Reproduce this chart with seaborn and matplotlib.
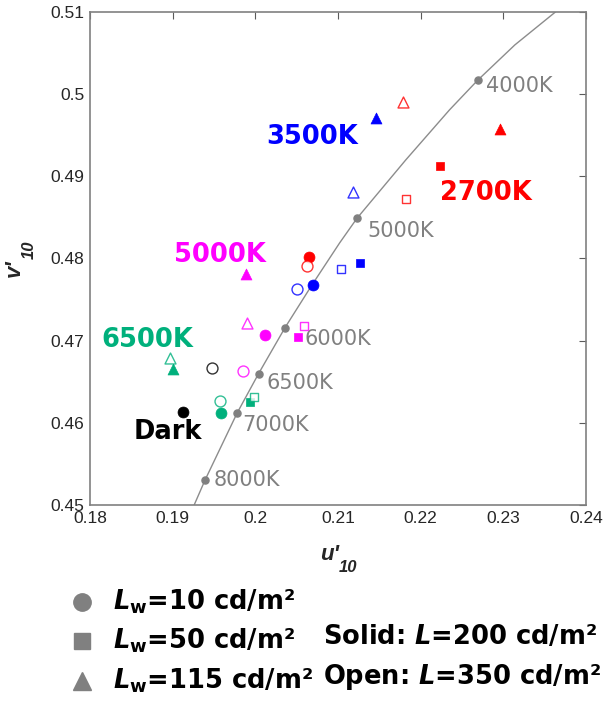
import numpy as np
import pandas as pd
import matplotlib
matplotlib.use("Agg")
import matplotlib.pyplot as plt
from matplotlib.lines import Line2D
import seaborn as sns

# Planckian locus (u'10, v'10)
locus_u = [0.1926, 0.1939, 0.1978, 0.2004, 0.2036, 0.2068, 0.2102, 0.2123,
           0.2182, 0.2235, 0.2269, 0.2314, 0.2363]
locus_v = [0.4500, 0.4530, 0.4612, 0.4660, 0.4716, 0.4767, 0.4819, 0.4849,
           0.4920, 0.4981, 0.5017, 0.5060, 0.5100]

# CCT marks on the locus
cct_names = ["8000K", "7000K", "6500K", "6000K", "5000K", "4000K"]
cct_u = [0.1939, 0.1978, 0.2004, 0.2036, 0.2123, 0.2269]
cct_v = [0.4530, 0.4612, 0.4660, 0.4716, 0.4849, 0.5017]
cct_label_u = [0.1949, 0.1984, 0.2014, 0.2060, 0.2135, 0.2279]
cct_label_v = [0.4530, 0.4597, 0.4648, 0.4702, 0.4833, 0.5010]

# measured white points: condition, white luminance (Lw), adapting luminance L
cond = ["2700K"] * 6 + ["3500K"] * 6 + ["5000K"] * 6 + ["6500K"] * 6 + ["Dark"] * 2
lw = [10, 10, 50, 50, 115, 115] * 4 + [10, 10]
lum = [200, 350] * 13
u10 = [0.2065, 0.2063, 0.2223, 0.2182, 0.2296, 0.2179,
       0.2070, 0.2051, 0.2127, 0.2104, 0.2146, 0.2118,
       0.2012, 0.1985, 0.2052, 0.2059, 0.1989, 0.1990,
       0.1958, 0.1957, 0.1993, 0.1998, 0.1901, 0.1897,
       0.1912, 0.1947]
v10 = [0.4802, 0.4791, 0.4913, 0.4873, 0.4958, 0.4991,
       0.4768, 0.4763, 0.4795, 0.4787, 0.4971, 0.4881,
       0.4707, 0.4663, 0.4704, 0.4718, 0.4781, 0.4722,
       0.4612, 0.4627, 0.4625, 0.4632, 0.4666, 0.4679,
       0.4613, 0.4667]

# condition labels
cond_names = ["2700K", "3500K", "5000K", "6500K", "Dark"]
cond_label_u = [0.2279, 0.2069, 0.1957, 0.1869, 0.1894]
cond_label_v = [0.4880, 0.4948, 0.4804, 0.4701, 0.4589]

colors = {"2700K": "#FF0000", "3500K": "#0000FF", "5000K": "#FF00FF",
          "6500K": "#00B07C", "Dark": "#000000"}
markers = {10: "o", 50: "s", 115: "^"}
sizes = {10: 62, 50: 40, 115: 62}

df = pd.DataFrame({"cond": cond, "lw": lw, "L": lum, "u": u10, "v": v10})
locus = pd.DataFrame({"u": locus_u, "v": locus_v})

sns.set_theme(style="white")
plt.rcParams["font.family"] = ["Liberation Sans", "DejaVu Sans"]
plt.rcParams["mathtext.fontset"] = "custom"
plt.rcParams["mathtext.rm"] = "DejaVu Sans:bold"
plt.rcParams["mathtext.it"] = "DejaVu Sans:italic:bold"

fig = plt.figure(figsize=(6.05, 7.07), dpi=100)
ax = fig.add_axes([90 / 605, 1 - 505 / 707, 496 / 605, 493 / 707])

sns.lineplot(data=locus, x="u", y="v", sort=False, estimator=None,
             color="#8c8c8c", linewidth=1.0, ax=ax)
ax.scatter(cct_u, cct_v, s=26, color="#808080", zorder=3)
for name, x, y in zip(cct_names, cct_label_u, cct_label_v):
    ax.text(x, y, name, color="#808080", fontsize=15, family="DejaVu Sans",
            ha="left", va="center")

for (c, w, L), g in df.groupby(["cond", "lw", "L"]):
    if L == 200:
        sns.scatterplot(data=g, x="u", y="v", marker=markers[w], s=sizes[w],
                        color=colors[c], edgecolor=colors[c], linewidth=0.5,
                        ax=ax, zorder=4)
    else:
        sns.scatterplot(data=g, x="u", y="v", marker=markers[w], s=sizes[w],
                        color=colors[c], facecolor="white", edgecolor=colors[c],
                        linewidth=1.0, alpha=0.8, ax=ax, zorder=4)

for name, x, y in zip(cond_names, cond_label_u, cond_label_v):
    ax.text(x, y, name, color=colors[name], fontsize=18.5, family="DejaVu Sans",
            fontweight="bold", ha="center", va="center")

ax.set_xlim(0.18, 0.24)
ax.set_ylim(0.45, 0.51)
xt = np.arange(0.18, 0.2401, 0.01)
yt = np.arange(0.45, 0.5101, 0.01)
ax.set_xticks(xt)
ax.set_yticks(yt)
ax.set_xticklabels([f"{t:.2f}".rstrip("0") for t in xt])
ax.set_yticklabels([f"{t:.2f}".rstrip("0") for t in yt])
ax.tick_params(direction="in", length=5, width=0.8, color="#5a5a5a",
               labelsize=12.5, labelcolor="#262626", top=True, right=True,
               labeltop=False, labelright=False, pad=4)
for sp in ax.spines.values():
    sp.set_color("#808080")
    sp.set_linewidth(1.2)
ax.set_xlabel("")
ax.set_ylabel("")

# axis labels u'10 / v'10
ax.text(0.502, -0.100, "u'", transform=ax.transAxes, ha="right", va="center",
        fontsize=16, fontweight="bold", fontstyle="italic", color="#262626")
ax.text(0.502, -0.127, "10", transform=ax.transAxes, ha="left", va="center",
        fontsize=12, fontweight="bold", fontstyle="italic", color="#262626")
ax.text(-0.152, 0.499, "v'", transform=ax.transAxes, rotation=90,
        rotation_mode="anchor", ha="right", va="center",
        fontsize=16, fontweight="bold", fontstyle="italic", color="#262626")
ax.text(-0.122, 0.499, "10", transform=ax.transAxes, rotation=90,
        rotation_mode="anchor", ha="left", va="center",
        fontsize=12, fontweight="bold", fontstyle="italic", color="#262626")

# legend block under the axes
leg_labels = [r"$\mathit{L}_{\mathrm{w}}$=10 cd/m²",
              r"$\mathit{L}_{\mathrm{w}}$=50 cd/m²",
              r"$\mathit{L}_{\mathrm{w}}$=115 cd/m²"]
leg_y = [602, 641, 681]
for w, lab, y in zip([10, 50, 115], leg_labels, leg_y):
    fig.add_artist(Line2D([82 / 605], [1 - y / 707], transform=fig.transFigure,
                          marker=markers[w], markersize=12.5 if w != 50 else 11,
                          color="#808080", linestyle="none"))
    fig.text(113 / 605, 1 - y / 707, lab, fontsize=18.5, family="DejaVu Sans",
             fontweight="bold", ha="left", va="center", color="black")

fig.text(323 / 605, 1 - 637 / 707, r"Solid: $\mathit{L}$=200 cd/m²", fontsize=18.5,
         family="DejaVu Sans", fontweight="bold", ha="left", va="center", color="black")
fig.text(323 / 605, 1 - 677 / 707, r"Open: $\mathit{L}$=350 cd/m²", fontsize=18.5,
         family="DejaVu Sans", fontweight="bold", ha="left", va="center", color="black")

fig.savefig("out.png", dpi=100)
